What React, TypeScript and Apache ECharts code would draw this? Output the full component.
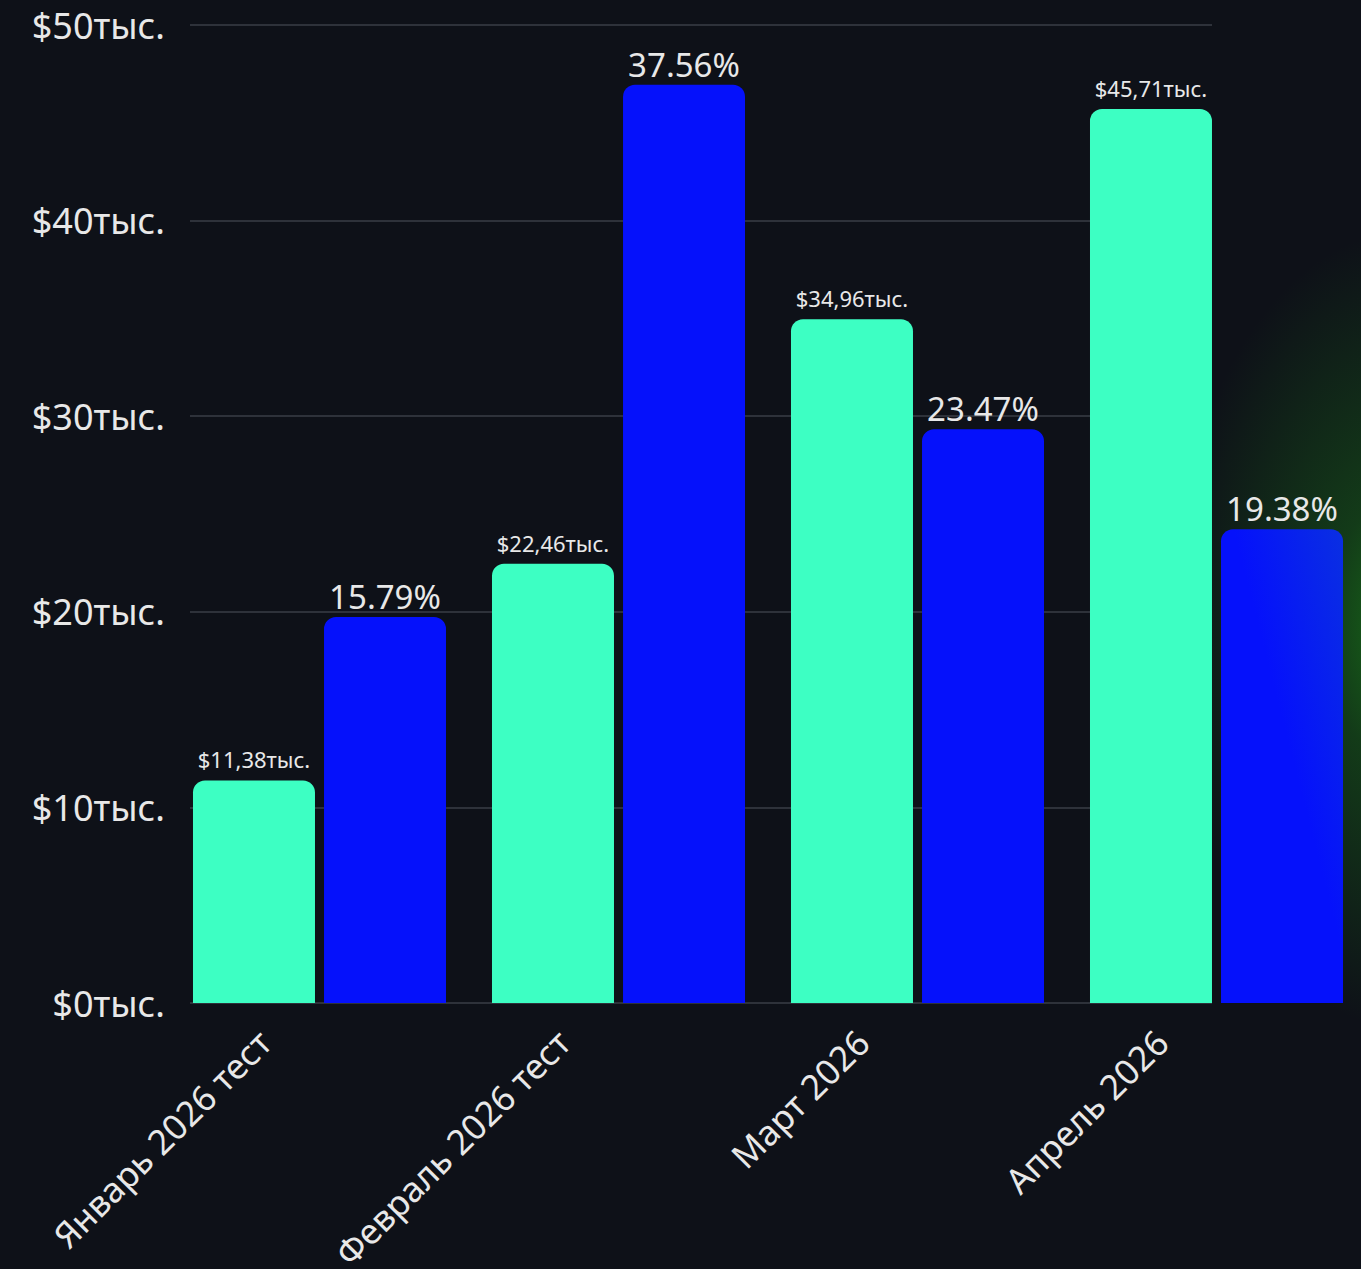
import React, { useEffect, useRef } from "react";
import * as echarts from "echarts";

const categories = ["Январь 2026 тест", "Февраль 2026 тест", "Март 2026", "Апрель 2026"];
const revenueK = [11.38, 22.46, 34.96, 45.71];
const percentValues = [15.79, 37.56, 23.47, 19.38];
const yTicksK = [0, 10, 20, 30, 40, 50];

const FONT = "'Noto Sans', 'Open Sans', sans-serif";
const GREEN = "#3dffc3";
const BLUE = "#0511fb";
const BG = "#0e1118";

export default function App() {
  const ref = useRef<HTMLDivElement>(null);
  useEffect(() => {
    if (!ref.current) return;
    const chart = echarts.init(ref.current, undefined, { renderer: "svg" });
    const top = 25;
    const height = 978;
    const blueData = percentValues.map((v, i) =>
      i === percentValues.length - 1
        ? {
            value: v,
            itemStyle: {
              color: new echarts.graphic.LinearGradient(0, 1, 1, 0, [
                { offset: 0, color: BLUE },
                { offset: 0.55, color: BLUE },
                { offset: 1, color: "#0a2fe2" },
              ]),
            },
          }
        : v
    );
    chart.setOption({
      animation: false,
      backgroundColor: BG,
      textStyle: { fontFamily: FONT },
      grid: [
        { left: 170, top, width: 1196, height, outerBoundsMode: "none" },
        { left: 190, top, width: 1022, height, outerBoundsMode: "none" },
        { left: 115, top, width: 1196, height, outerBoundsMode: "none" },
      ],
      xAxis: [
        {
          type: "category",
          gridIndex: 0,
          data: categories,
          axisLine: { show: false },
          axisTick: { show: false },
          axisLabel: { show: false },
        },
        {
          type: "category",
          gridIndex: 1,
          data: categories,
          show: false,
        },
        {
          type: "category",
          gridIndex: 2,
          data: categories,
          axisLine: { show: false },
          axisTick: { show: false },
          axisLabel: {
            rotate: 45,
            margin: 33,
            color: "#e8e8e8",
            fontSize: 35,
            fontFamily: FONT,
            interval: 0,
          },
        },
      ],
      yAxis: [
        { type: "value", gridIndex: 0, min: 0, max: 50, show: false, splitLine: { show: false } },
        { type: "value", gridIndex: 0, min: 0, max: 40, show: false, splitLine: { show: false } },
        {
          type: "value",
          gridIndex: 1,
          min: yTicksK[0],
          max: yTicksK[yTicksK.length - 1],
          interval: 10,
          axisLine: { show: false },
          axisTick: { show: false },
          axisLabel: {
            color: "#e8e8e8",
            fontSize: 36,
            fontFamily: FONT,
            margin: 25,
            formatter: (v: number) => "$" + v + "тыс.",
          },
          splitLine: { lineStyle: { color: "#3a3e46", width: 1.5 } },
        },
        { type: "value", gridIndex: 2, show: false, splitLine: { show: false } },
      ],
      series: [
        {
          type: "bar",
          name: "Выручка",
          xAxisIndex: 0,
          yAxisIndex: 0,
          data: revenueK,
          barWidth: 122,
          barGap: "7.4%",
          itemStyle: { color: GREEN, borderRadius: [12, 12, 0, 0] },
          label: {
            show: true,
            position: "top",
            distance: 10,
            color: "#e8e8e8",
            fontSize: 22,
            fontFamily: FONT,
            formatter: (p: any) => "$" + Number(p.value).toFixed(2).replace(".", ",") + "тыс.",
          },
          z: 3,
        },
        {
          type: "bar",
          name: "Процент",
          xAxisIndex: 0,
          yAxisIndex: 1,
          data: blueData,
          barWidth: 122,
          barGap: "7.4%",
          itemStyle: { color: BLUE, borderRadius: [12, 12, 0, 0] },
          label: {
            show: true,
            position: "top",
            distance: 4,
            color: "#e8e8e8",
            fontSize: 33,
            fontFamily: FONT,
            formatter: (p: any) => Number(p.value).toFixed(2) + "%",
          },
          z: 3,
        },
      ],
      graphic: [
        {
          type: "ellipse",
          shape: { cx: 1410, cy: 630, rx: 240, ry: 400 },
          z: -1,
          silent: true,
          style: {
            fill: new echarts.graphic.RadialGradient(0.5, 0.5, 0.5, [
              { offset: 0, color: "rgba(25,125,25,0.9)" },
              { offset: 0.35, color: "rgba(25,110,25,0.45)" },
              { offset: 1, color: "rgba(25,110,25,0)" },
            ]),
          },
        },
      ],
    });
    return () => chart.dispose();
  }, []);
  return (
    <div
      style={{
        position: "absolute",
        left: 0,
        top: 0,
        width: 1361,
        height: 1269,
        overflow: "hidden",
        background: BG,
      }}
    >
      <div ref={ref} style={{ width: 1420, height: 1269 }} />
    </div>
  );
}
